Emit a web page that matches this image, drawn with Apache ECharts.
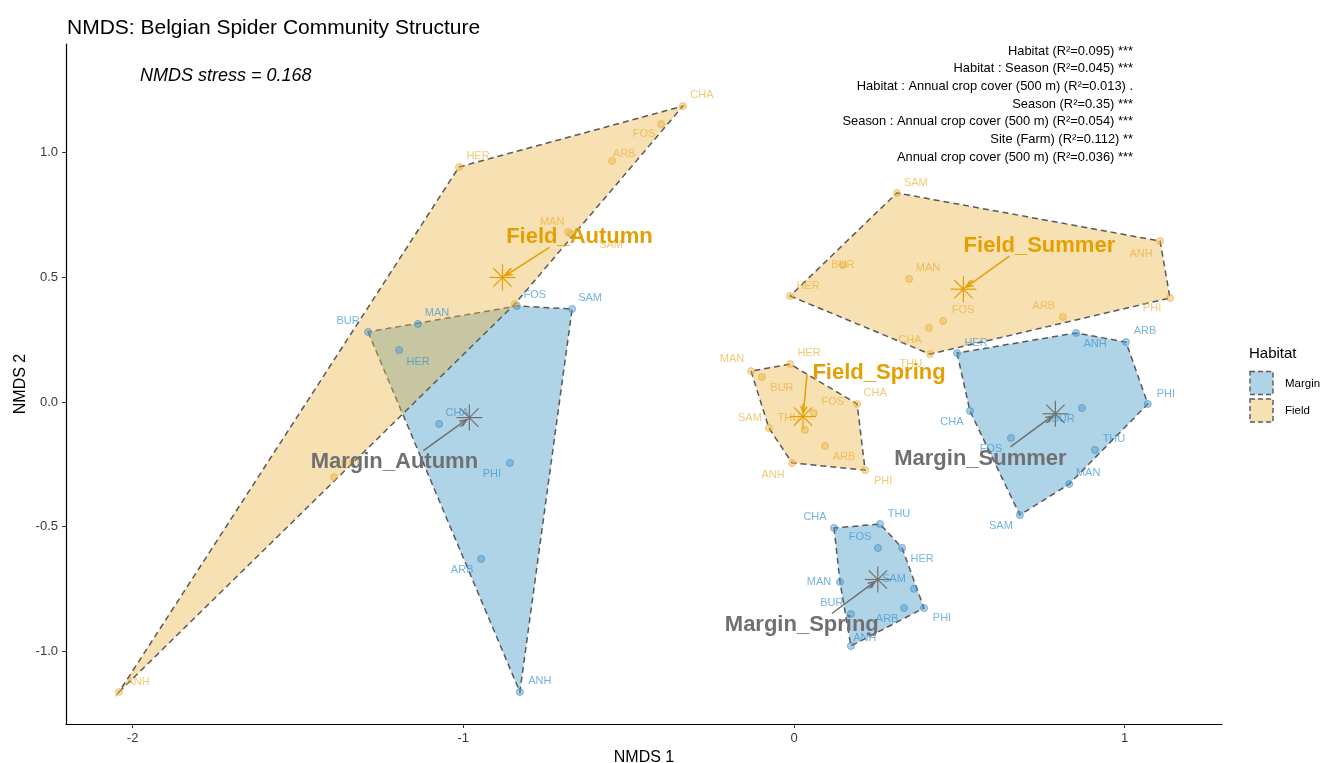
<!DOCTYPE html>
<html>
<head>
<meta charset="utf-8">
<script src="https://cdn.jsdelivr.net/npm/echarts@6/dist/echarts.min.js"></script>
<style>
  html, body { margin: 0; padding: 0; background: #fff; }
  #chart { width: 1328px; height: 763px; }
</style>
</head>
<body>
<div id="chart"></div>
<script>
// ---- NMDS site scores, one set of arrays per habitat x season group ----
const maSpecies = ['BUR', 'MAN', 'HER', 'FOS', 'SAM', 'CHA', 'PHI', 'ARB', 'ANH'];
const maNMDS1 = [-1.288, -1.137, -1.194, -0.838, -0.671, -1.073, -0.859, -0.946, -0.829];
const maNMDS2 = [0.281, 0.313, 0.208, 0.385, 0.373, -0.088, -0.244, -0.629, -1.162];

const msSpecies = ['HER', 'ANH', 'ARB', 'PHI', 'BUR', 'THU', 'MAN', 'SAM', 'FOS', 'CHA'];
const msNMDS1 = [0.493, 0.853, 1.004, 1.070, 0.871, 0.910, 0.832, 0.683, 0.656, 0.532];
const msNMDS2 = [0.196, 0.277, 0.240, -0.008, -0.024, -0.192, -0.329, -0.453, -0.144, -0.036];

const mpSpecies = ['CHA', 'THU', 'FOS', 'HER', 'MAN', 'SAM', 'PHI', 'ARB', 'BUR', 'ANH'];
const mpNMDS1 = [0.121, 0.260, 0.254, 0.327, 0.139, 0.363, 0.393, 0.333, 0.172, 0.172];
const mpNMDS2 = [-0.505, -0.489, -0.585, -0.585, -0.721, -0.749, -0.826, -0.826, -0.850, -0.978];

const faSpecies = ['CHA', 'FOS', 'ARB', 'HER', 'MAN', 'SAM', 'ANH', 'PHI', 'BUR'];
const faNMDS1 = [-0.336, -0.402, -0.550, -1.013, -0.683, -0.674, -2.041, -1.391, -0.844];
const faNMDS2 = [1.186, 1.114, 0.966, 0.942, 0.681, 0.673, -1.162, -0.301, 0.393];

const fsSpecies = ['SAM', 'ANH', 'PHI', 'HER', 'BUR', 'MAN', 'ARB', 'FOS', 'CHA', 'THU'];
const fsNMDS1 = [0.311, 1.107, 1.137, -0.012, 0.148, 0.348, 0.813, 0.451, 0.408, 0.411];
const fsNMDS2 = [0.838, 0.645, 0.417, 0.425, 0.549, 0.493, 0.341, 0.325, 0.297, 0.192];

const fpSpecies = ['MAN', 'HER', 'BUR', 'CHA', 'FOS', 'SAM', 'THU', 'ARB', 'ANH', 'PHI'];
const fpNMDS1 = [-0.130, -0.012, -0.097, 0.191, 0.060, -0.076, 0.033, 0.094, -0.006, 0.215];
const fpNMDS2 = [0.124, 0.152, 0.100, -0.008, -0.044, -0.104, -0.112, -0.176, -0.244, -0.273];

const habitats = ['Margin', 'Field'];
const xTicks = [-2, -1, 0, 1];
const yTicks = [-1, -0.5, 0, 0.5, 1];

const stressText = 'NMDS stress = 0.168';
const permanovaLines = [
  'Habitat (R\u00B2=0.095) ***',
  'Habitat : Season (R\u00B2=0.045) ***',
  'Habitat : Annual crop cover (500 m) (R\u00B2=0.013) .',
  'Season (R\u00B2=0.35) ***',
  'Season : Annual crop cover (500 m) (R\u00B2=0.054) ***',
  'Site (Farm) (R\u00B2=0.112) **',
  'Annual crop cover (500 m) (R\u00B2=0.036) ***'
];

// ---- layout: label nudges (px) for species labels, null = label not drawn ----
const labelNudge = {
  Margin_Autumn: [[-20,-11],[19,-11],[19,12],[18,-11],[18,-11],[18,-11],[-18,11],[-19,11],[20,-11]],
  Margin_Summer: [[19,-10],[19,11],[19,-11],[18,-10],[-19,11],[19,-11],[19,-11],[-19,11],[-20,11],[-18,11]],
  Margin_Spring: [[-19,-11],[19,-10],[-18,-11],[20,11],[-21,0],[-20,-10],[18,10],[-17,11],[-19,-11],[14,-8]],
  Field_Autumn:  [[19,-11],[-17,10],[12,-7],[19,-11],[-16,-10],[40,11],[19,-10],[16,-12],null],
  Field_Summer:  [[19,-10],[-19,13],[-18,10],[18,-10],[0,0],[19,-11],[-19,-11],[20,-11],[-19,12],[-19,10]],
  Field_Spring:  [[-19,-12],[19,-11],[20,11],[18,-11],[19,-11],[-19,-10],[-16,-12],[19,11],[-19,12],[18,11]]
};
// group label centre and arrow start, px relative to the group centroid
const groupLabelLayout = {
  Margin_Autumn: { label: [-75, 44], arrow: [-46, 33] },
  Margin_Summer: { label: [-75, 45], arrow: [-45, 33] },
  Margin_Spring: { label: [-76, 45], arrow: [-46, 34] },
  Field_Autumn:  { label: [77, -41], arrow: [47, -30] },
  Field_Summer:  { label: [76, -43], arrow: [46, -33] },
  Field_Spring:  { label: [76, -44], arrow: [4, -42] }
};

// ---- styles ----
const FONT = "'Liberation Sans', Arial, Helvetica, sans-serif";
const style = {
  Margin: {
    fill: 'rgba(79,159,202,0.45)',
    point: 'rgba(70,150,205,0.55)', pointBorder: 'rgba(55,135,195,0.7)',
    text: 'rgba(50,145,210,0.85)', centroid: '#707070'
  },
  Field: {
    fill: 'rgba(235,177,62,0.40)',
    point: 'rgba(240,178,55,0.55)', pointBorder: 'rgba(228,160,40,0.6)',
    text: 'rgba(235,165,30,0.75)', centroid: '#E69F00'
  }
};

// ---- assemble groups ----
const groups = [
  { name: 'Margin_Autumn', habitat: 'Margin', sp: maSpecies, x: maNMDS1, y: maNMDS2 },
  { name: 'Margin_Summer', habitat: 'Margin', sp: msSpecies, x: msNMDS1, y: msNMDS2 },
  { name: 'Margin_Spring', habitat: 'Margin', sp: mpSpecies, x: mpNMDS1, y: mpNMDS2 },
  { name: 'Field_Autumn',  habitat: 'Field',  sp: faSpecies, x: faNMDS1, y: faNMDS2 },
  { name: 'Field_Summer',  habitat: 'Field',  sp: fsSpecies, x: fsNMDS1, y: fsNMDS2 },
  { name: 'Field_Spring',  habitat: 'Field',  sp: fpSpecies, x: fpNMDS1, y: fpNMDS2 }
];

// convex hull (monotone chain) of [x, y] points
function convexHull(pts) {
  const p = pts.slice().sort((a, b) => a[0] - b[0] || a[1] - b[1]);
  const cross = (o, a, b) => (a[0] - o[0]) * (b[1] - o[1]) - (a[1] - o[1]) * (b[0] - o[0]);
  const lower = [], upper = [];
  for (const q of p) {
    while (lower.length >= 2 && cross(lower[lower.length - 2], lower[lower.length - 1], q) <= 0) lower.pop();
    lower.push(q);
  }
  for (let i = p.length - 1; i >= 0; i--) {
    const q = p[i];
    while (upper.length >= 2 && cross(upper[upper.length - 2], upper[upper.length - 1], q) <= 0) upper.pop();
    upper.push(q);
  }
  upper.pop(); lower.pop();
  return lower.concat(upper);
}

groups.forEach(g => {
  g.points = g.x.map((v, i) => [v, g.y[i]]);
  g.hull = convexHull(g.points);
  const n = g.points.length;
  g.centroid = [g.x.reduce((s, v) => s + v, 0) / n, g.y.reduce((s, v) => s + v, 0) / n];
});

// ---- axis extents ----
const X_MIN = -2.2014, X_MAX = 1.2942;
const Y_MIN = -1.2906, Y_MAX = 1.4349;

function hullSeries(habitat, z) {
  const gs = groups.filter(g => g.habitat === habitat);
  return {
    type: 'custom', name: habitat + ' hull', z: z, silent: true,
    data: gs.map(g => g.centroid),
    renderItem: (params, api) => {
      const g = gs[params.dataIndex];
      return {
        type: 'polygon',
        shape: { points: g.hull.map(p => api.coord(p)) },
        style: { fill: style[habitat].fill, stroke: '#595959', lineWidth: 1.5, lineDash: [6, 4] }
      };
    }
  };
}

function pointSeries(habitat) {
  const data = [];
  groups.filter(g => g.habitat === habitat).forEach(g => {
    g.points.forEach((p, i) => {
      const nudge = labelNudge[g.name][i];
      data.push({
        name: g.sp[i], value: p,
        label: nudge ? { offset: nudge } : { show: false }
      });
    });
  });
  return {
    type: 'scatter', name: habitat, z: 4, silent: true,
    symbol: 'circle', symbolSize: 7,
    itemStyle: { color: style[habitat].point, borderColor: style[habitat].pointBorder, borderWidth: 1 },
    label: {
      show: true, position: 'inside', formatter: '{b}',
      color: style[habitat].text, fontSize: 11, fontFamily: FONT
    },
    data: data
  };
}

const centroidSeries = {
  type: 'custom', name: 'centroids', z: 8, silent: true,
  data: groups.map(g => g.centroid),
  renderItem: (params, api) => {
    const g = groups[params.dataIndex];
    const c = api.coord(g.centroid);
    const col = style[g.habitat].centroid;
    const r = 13, d = r / Math.SQRT2;
    const children = [];
    [[0, -r, 0, r], [-r, 0, r, 0], [-d, -d, d, d], [-d, d, d, -d]].forEach(s => {
      children.push({
        type: 'line',
        shape: { x1: c[0] + s[0], y1: c[1] + s[1], x2: c[0] + s[2], y2: c[1] + s[3] },
        style: { stroke: col, lineWidth: 1.2 }
      });
    });
    const lay = groupLabelLayout[g.name];
    const sx = c[0] + lay.arrow[0], sy = c[1] + lay.arrow[1];
    const dx = c[0] - sx, dy = c[1] - sy, len = Math.hypot(dx, dy);
    const ux = dx / len, uy = dy / len;
    const tx = c[0] - ux * 4, ty = c[1] - uy * 4;
    children.push({
      type: 'line', shape: { x1: sx, y1: sy, x2: tx, y2: ty },
      style: { stroke: col, lineWidth: 1.5 }
    });
    const hl = 7, a = Math.PI / 7;
    const ang = Math.atan2(uy, ux);
    children.push({
      type: 'polyline',
      shape: { points: [
        [tx - hl * Math.cos(ang - a), ty - hl * Math.sin(ang - a)],
        [tx, ty],
        [tx - hl * Math.cos(ang + a), ty - hl * Math.sin(ang + a)]
      ] },
      style: { stroke: col, lineWidth: 1.5, fill: null }
    });
    children.push({
      type: 'text', z2: 10,
      style: {
        text: g.name, x: c[0] + lay.label[0], y: c[1] + lay.label[1],
        fill: col, fontSize: 22, fontWeight: 'bold', fontFamily: FONT,
        align: 'center', verticalAlign: 'middle'
      }
    });
    return { type: 'group', children: children };
  }
};

const chart = echarts.init(document.getElementById('chart'), null, { renderer: 'canvas' });

const graphics = [
  {
    type: 'text', left: 140, top: 67, silent: true,
    style: { text: stressText, fill: '#000', fontSize: 18, fontStyle: 'italic', fontFamily: FONT }
  },
  {
    type: 'text', x: 1249, y: 354, silent: true,
    style: { text: 'Habitat', fill: '#000', fontSize: 15, fontFamily: FONT, verticalAlign: 'middle' }
  }
];
permanovaLines.forEach((t, i) => {
  graphics.push({
    type: 'text', x: 1133, y: 51 + i * 17.7, silent: true,
    style: { text: t, fill: '#000', fontSize: 12.9, fontFamily: FONT, align: 'right', verticalAlign: 'middle' }
  });
});
habitats.forEach((h, i) => {
  const y0 = 371.5 + i * 27.5;
  graphics.push({
    type: 'rect', silent: true,
    shape: { x: 1250, y: y0, width: 23, height: 23 },
    style: { fill: style[h].fill, stroke: '#595959', lineWidth: 1.4, lineDash: [5, 3] }
  });
  graphics.push({
    type: 'text', x: 1285, y: y0 + 12, silent: true,
    style: { text: h, fill: '#000', fontSize: 11.5, fontFamily: FONT, verticalAlign: 'middle' }
  });
});

chart.setOption({
  animation: false,
  backgroundColor: '#fff',
  title: {
    text: 'NMDS: Belgian Spider Community Structure',
    left: 62, top: 13,
    textStyle: { fontSize: 21, fontWeight: 'normal', color: '#000', fontFamily: FONT }
  },
  grid: { left: 66, right: 106, top: 44, bottom: 39, containLabel: false, outerBoundsMode: 'none' },
  xAxis: {
    type: 'value', min: X_MIN, max: X_MAX,
    name: 'NMDS 1', nameLocation: 'middle', nameGap: 26, nameMoveOverlap: false,
    nameTextStyle: { fontSize: 16, color: '#000', fontFamily: FONT },
    axisLine: { onZero: false, lineStyle: { color: '#000', width: 1.2 } },
    axisTick: { customValues: xTicks, length: 4, lineStyle: { color: '#333', width: 1 } },
    axisLabel: { customValues: xTicks, formatter: v => String(v), color: '#3a3a3a', fontSize: 13, margin: 8, fontFamily: FONT },
    splitLine: { show: false }
  },
  yAxis: {
    type: 'value', min: Y_MIN, max: Y_MAX,
    name: 'NMDS 2', nameLocation: 'middle', nameGap: 37, nameRotate: 90, nameMoveOverlap: false,
    nameTextStyle: { fontSize: 16, color: '#000', fontFamily: FONT },
    axisLine: { onZero: false, lineStyle: { color: '#000', width: 1.2 } },
    axisTick: { customValues: yTicks, length: 4, lineStyle: { color: '#333', width: 1 } },
    axisLabel: { customValues: yTicks, formatter: v => v.toFixed(1), color: '#3a3a3a', fontSize: 13, margin: 8, fontFamily: FONT },
    splitLine: { show: false }
  },
  graphic: graphics,
  series: [
    hullSeries('Margin', 1),
    hullSeries('Field', 2),
    pointSeries('Margin'),
    pointSeries('Field'),
    centroidSeries
  ]
});
</script>
</body>
</html>
